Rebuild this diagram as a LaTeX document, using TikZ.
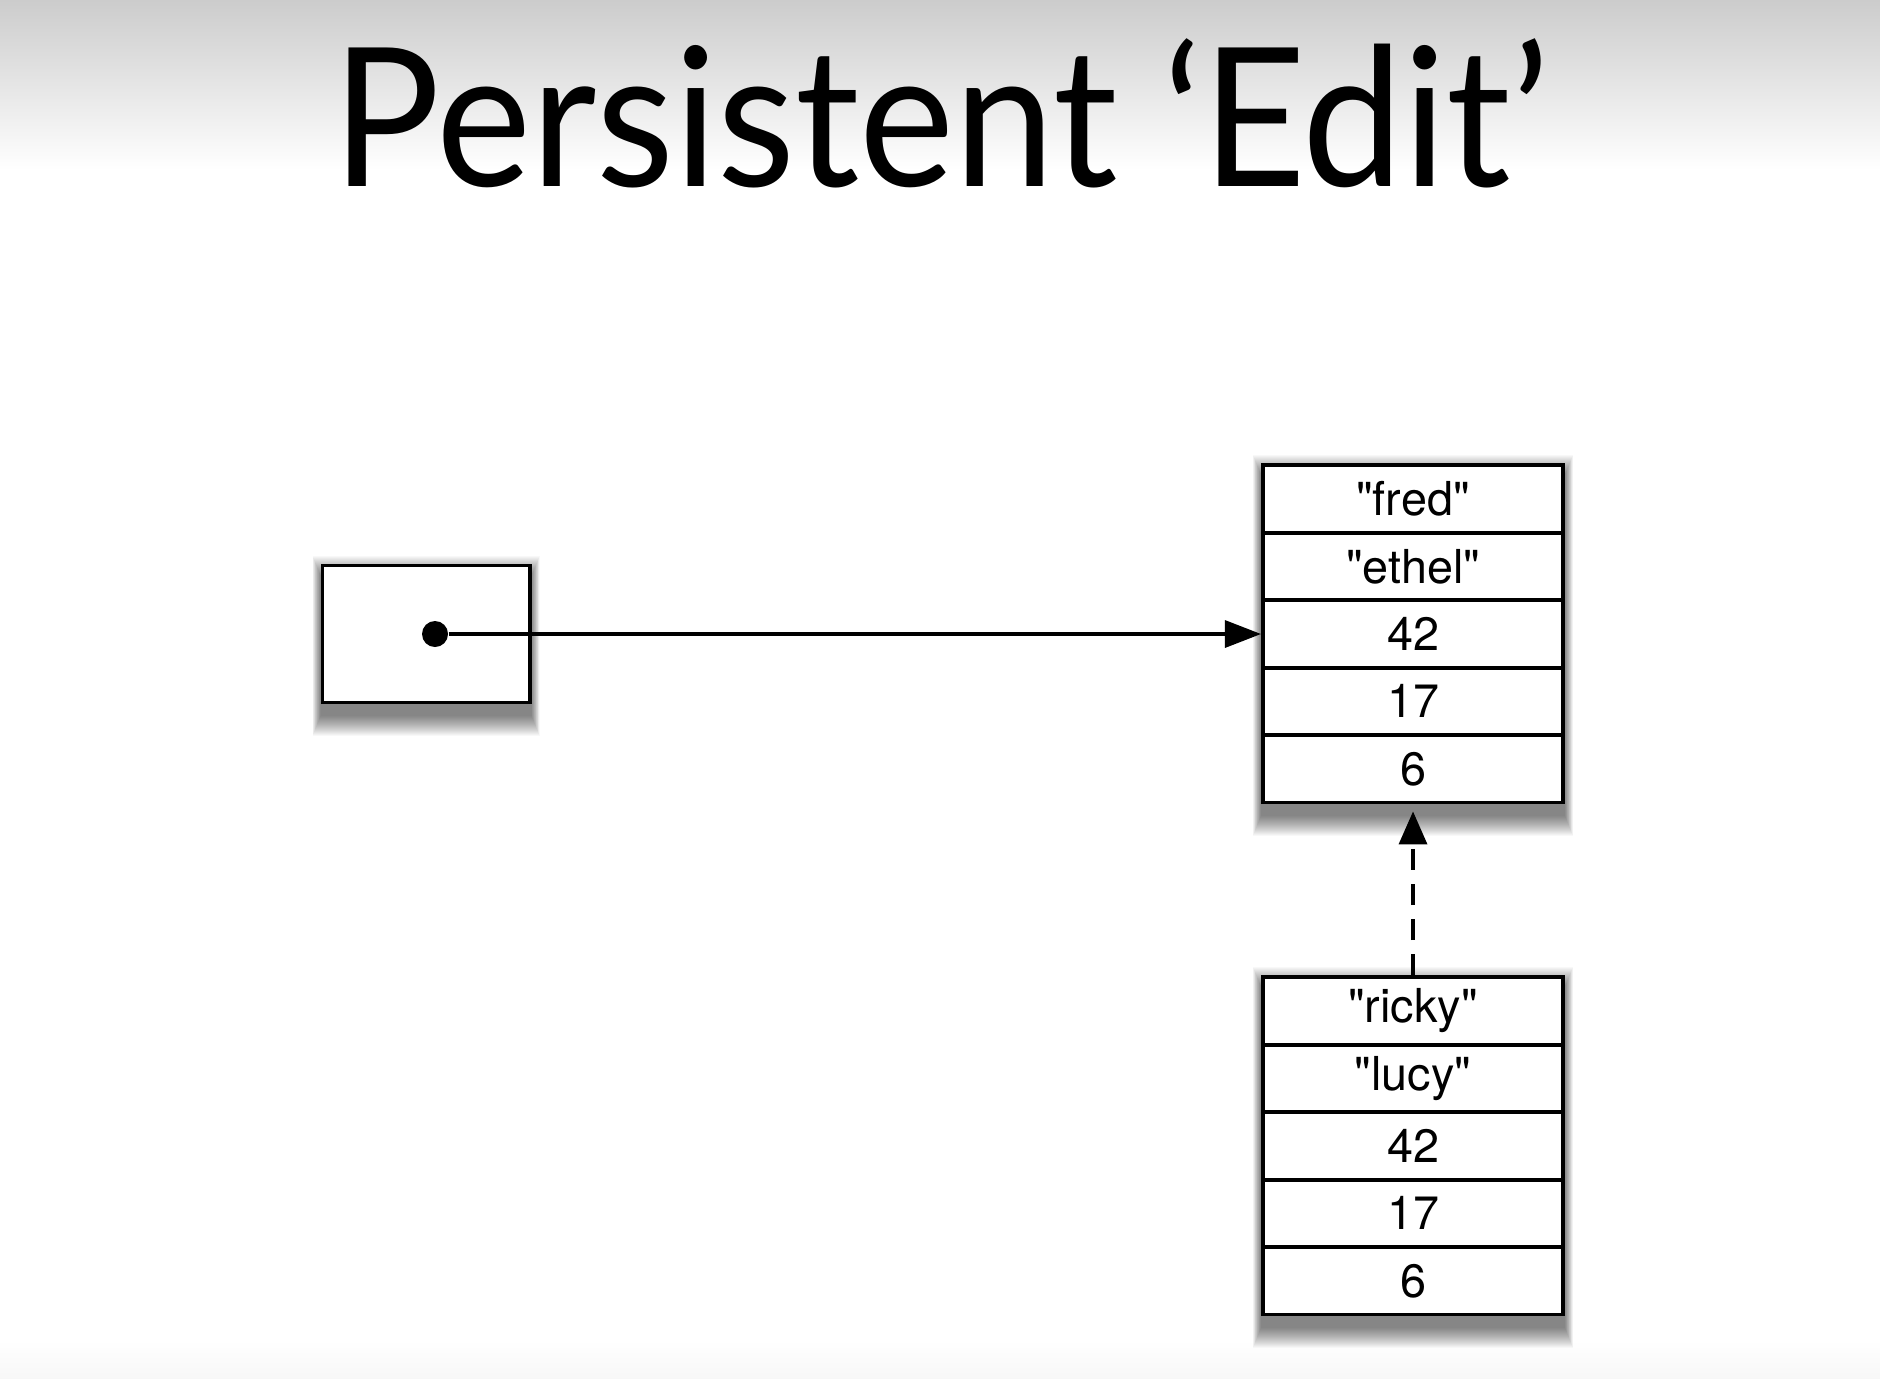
\documentclass[tikz,border=0pt]{standalone}
\usepackage{fontspec}
\setmainfont{TeX Gyre Heros}[Ligatures=TeXOff]
\newfontfamily\titlefont{Lato}[FakeStretch=0.93]
\usetikzlibrary{arrows.meta,positioning,calc,backgrounds}
\tikzset{
  cellbox/.style={draw, line width=1.1pt, fill=white, minimum width=3cm,
    minimum height=0.674cm, inner sep=0pt, font=\fontsize{13.3}{16}\selectfont},
  refbox/.style={draw, line width=1.1pt, fill=white, minimum width=2.07cm,
    minimum height=1.37cm},
  ptrln/.style={-{Triangle[length=3.6mm,width=2.7mm]}, line width=0.9pt},
  linkln/.style={-{Triangle[length=3.3mm,width=2.8mm]}, line width=1pt,
    dash pattern=on 6pt off 4pt},
}
\newcommand{\boxshadow}[2]{%
  \foreach \e in {0,1,...,20} {
    \fill[black, opacity=0.028] ($(#1.north west)+(-\e/2.5,12-\e)$)
      rectangle ($(#2.south east)+(\e/2.5,12+\e)$);
  }%
}

\begin{document}
\begin{tikzpicture}[x=0.01cm, y=-0.01cm]
    \useasboundingbox (0,0) rectangle (1880,1378);
    \node[font=\titlefont\fontsize{55}{60}\selectfont, anchor=base] (title)
      at (941,186) {Persistent ‘Edit’};
    % reference
    \node[refbox] (ref) at (426,634) {};
    \node[circle, fill, inner sep=0pt, minimum size=0.26cm] (ptr) at (435,634) {};
    % original record
    \node[cellbox] (a1) at (1413,499) {"fred"};
    \node[cellbox, below=-1.1pt of a1] (a2) {"ethel"};
    \node[cellbox, below=-1.1pt of a2] (a3) {42};
    \node[cellbox, below=-1.1pt of a3] (a4) {17};
    \node[cellbox, below=-1.1pt of a4] (a5) {6};
    % edited record
    \node[cellbox] (b1) at (1413,1011) {"ricky"};
    \node[cellbox, below=-1.1pt of b1] (b2) {"lucy"};
    \node[cellbox, below=-1.1pt of b2] (b3) {42};
    \node[cellbox, below=-1.1pt of b3] (b4) {17};
    \node[cellbox, below=-1.1pt of b4] (b5) {6};
    \draw[ptrln] (ptr) -- (ptr -| a3.west);
    \draw[linkln, shorten >=0.07cm] (b1) -- (a5);
    \begin{pgfonlayer}{background}
      \fill[white] (0,0) rectangle (1880,1378);
      \shade[top color=black!20, bottom color=white] (0,0) rectangle (1880,170);
      \shade[top color=white, bottom color=black!3] (0,1340) rectangle (1880,1378);
      \boxshadow{ref}{ref}
      \boxshadow{a1}{a5}
      \boxshadow{b1}{b5}
    \end{pgfonlayer}
\end{tikzpicture}
\end{document}
